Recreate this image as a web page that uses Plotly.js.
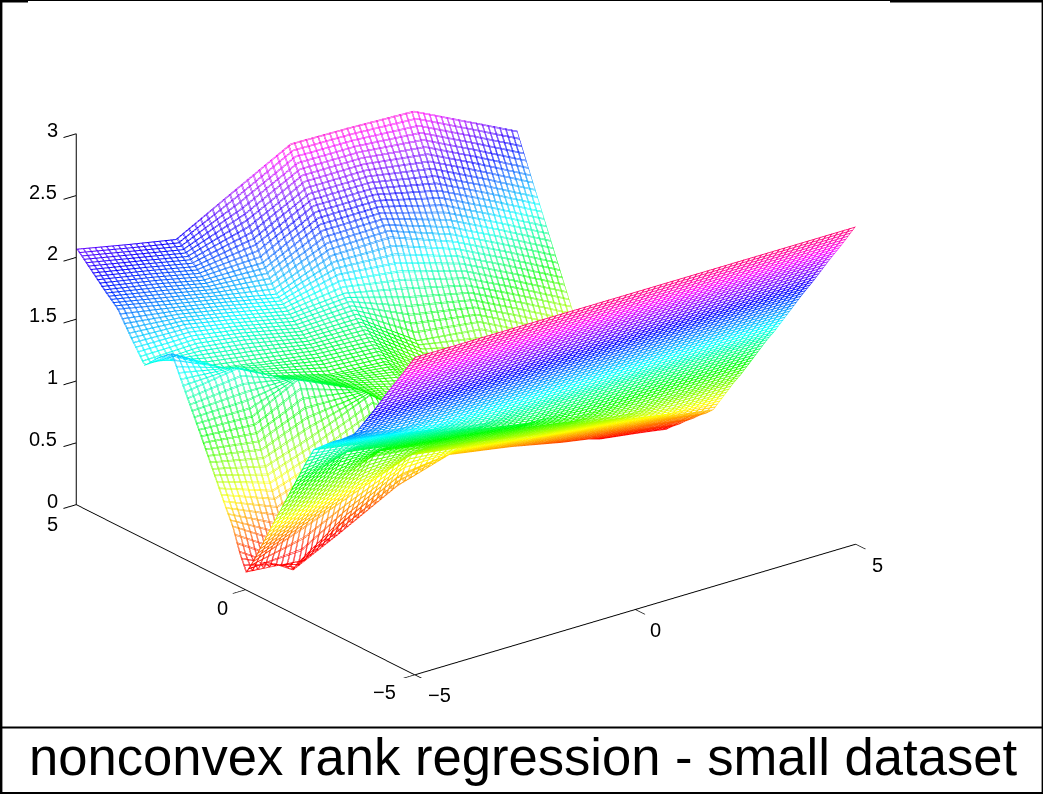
<!DOCTYPE html>
<html><head><meta charset="utf-8">
<script src="https://cdn.plot.ly/plotly-3.0.1.min.js"></script>
<style>html,body{margin:0;padding:0;background:#fff}#p{width:1043px;height:794px}</style></head>
<body><div id="p"></div>
<script>
const xValues=[-5,-3.77,-2.74,-1.4,-0.14,1.2,2.65,3.8,5];
const yValues=[-5,-4.6,-4.2,-3.8,-3.4,-3.2,-3,-2.8,-2.6,-2.4,-2.2,-2,-1.8,-1.6,-1.4,-1.2,-1,-.8,-.6,-.4,-.2,0,.2,.4,.6,1,1.4,1.8,2.2,2.6,3,3.4,3.8,4.2,4.6,5];
const zc0=[2.57,2.37,2.18,1.98,1.79,1.70,1.65,1.60,1.56,1.51,1.46,1.41,1.29,1.16,1.03,.90,.77,.64,.51,.38,.25,.14,.28,.46,.58,.84,1.10,1.35,1.61,1.52,1.40,1.57,1.75,1.85,1.96,2.07];
const zc1=[2.57,2.37,2.18,1.98,1.79,1.69,1.59,1.53,1.48,1.43,1.38,1.33,1.28,1.23,1.18,1.07,.94,.81,.68,.55,.42,.10,0,.19,.39,.73,1.08,1.42,1.36,1.30,1.42,1.55,1.66,1.77,1.875,1.98];
const zc2=[2.57,2.37,2.18,1.98,1.79,1.69,1.59,1.49,1.42,1.37,1.32,1.27,1.22,1.17,1.12,1.07,1.02,.95,.82,.69,.56,.36,.18,.35,.52,.86,1.27,1.22,1.19,1.24,1.37,1.48,1.59,1.69,1.80,1.91];
const zc3=[2.57,2.37,2.18,1.98,1.79,1.69,1.59,1.49,1.39,1.30,1.24,1.19,1.14,1.09,1.04,.99,.94,.89,.84,.79,.74,.61,.43,.58,.73,1.06,1.05,1.05,1.06,1.17,1.27,1.38,1.49,1.69,1.93,2.17];
const zc4=[2.57,2.37,2.18,1.98,1.79,1.69,1.59,1.49,1.39,1.30,1.20,1.11,1.06,1.01,.96,.91,.86,.81,.77,.72,.67,.62,.57,.52,.55,.70,.85,.96,1.03,1.14,1.27,1.42,1.67,1.92,2.16,2.41];
const zc5=[2.57,2.37,2.18,1.98,1.79,1.69,1.59,1.49,1.39,1.30,1.20,1.10,1.00,.93,.88,.83,.78,.73,.68,.63,.59,.54,.49,.44,.41,.45,.50,.60,.70,.80,.95,1.32,1.68,1.92,2.16,2.40];
const zc6=[2.57,2.37,2.18,1.98,1.79,1.69,1.59,1.49,1.39,1.30,1.20,1.10,1.00,.90,.81,.75,.70,.65,.60,.55,.50,.45,.40,.35,.30,.27,.30,.33,.38,.55,.89,1.19,1.49,1.79,2.09,2.38];
const zc7=[2.57,2.37,2.18,1.98,1.79,1.69,1.59,1.49,1.39,1.30,1.20,1.10,1.00,.90,.81,.71,.63,.58,.53,.48,.43,.38,.33,.28,.23,.15,.11,.13,.13,.39,.69,.99,1.29,1.59,1.89,2.18];
const zc8=[2.57,2.37,2.18,1.98,1.79,1.69,1.59,1.49,1.39,1.30,1.20,1.10,1.00,.90,.81,.71,.61,.51,.455,.41,.356,.31,.256,.21,.157,.09,.04,.03,.03,.17,.47,.77,1.07,1.37,1.67,1.97];
const columns=[zc0,zc1,zc2,zc3,zc4,zc5,zc6,zc7,zc8];
const zMatrix=yValues.map((_,r)=>columns.map(c=>c[r]));
const hsv=[[0,'#ff0000'],[1/6,'#ffff00'],[1/3,'#00ff00'],[1/2,'#00ffff'],[2/3,'#0000ff'],[5/6,'#ff00ff'],[1,'#ff0000']];
const white=[[0,'#ffffff'],[1,'#ffffff']];
const flat={ambient:1,diffuse:0,specular:0,roughness:1,fresnel:0};
const noC={show:false,highlight:false};
const mesh=(s,size)=>({show:true,start:s,end:5.1,size:size,usecolormap:true,highlight:false,width:2});
const lines=(sx,sy)=>({type:'surface',x:xValues,y:yValues,z:zMatrix,showscale:false,colorscale:hsv,cmin:0,cmax:2.57,hidesurface:true,lighting:flat,hoverinfo:'skip',contours:{x:mesh(sx,0.1331),y:mesh(sy,0.0665),z:noC}});
const ax=(tv)=>({tickvals:tv,showgrid:false,zeroline:false,showbackground:false,showspikes:false,showline:true,linecolor:'#000',linewidth:2,ticks:'outside',ticklen:16,tickcolor:'#000',tickwidth:2,showticklabels:false,title:{text:''}});
const xTicks=[-5,0,5],yTicks=[-5,0,5],zTicks=[0,0.5,1,1.5,2,2.5,3];
const lab=(x,y,z,t,xs,ys)=>({x,y,z,text:t,showarrow:false,xshift:xs,yshift:ys,font:{family:'Liberation Sans',size:20,color:'#000'}});
const annos=[
 lab(-5,5,0,'0',-24,4),lab(-5,5,.5,'0.5',-33,4),lab(-5,5,1,'1',-24,4),lab(-5,5,1.5,'1.5',-33,4),lab(-5,5,2,'2',-24,4),lab(-5,5,2.5,'2.5',-33,4),lab(-5,5,3,'3',-24,4),
 lab(-5,5,0,'5',-24,-19),lab(-5,0,0,'0',-23,-18),lab(-5,-5,0,'\u22125',-30,-17),
 lab(-5,-5,0,'\u22125',25,-20),lab(0,-5,0,'0',20,-20),lab(5,-5,0,'5',22,-21)];
Plotly.newPlot('p',[
 {type:'surface',x:xValues,y:yValues,z:zMatrix,showscale:false,colorscale:white,lighting:flat,hoverinfo:'skip',contours:{x:noC,y:noC,z:noC}},
 lines(-4.99,-4.99),lines(-4.97,-4.98)
],{
 width:1043,height:794,margin:{l:0,r:0,t:0,b:0},paper_bgcolor:'#fff',showlegend:false,
 scene:{domain:{x:[0,.8936],y:[.146,1]},aspectmode:'manual',aspectratio:{x:1.64,y:1.64,z:1.186},
  xaxis:Object.assign(ax(xTicks),{range:[-5,5]}),yaxis:Object.assign(ax(yTicks),{range:[-5,5]}),zaxis:Object.assign(ax(zTicks),{range:[0,3]}),
  camera:{projection:{type:'orthographic'},eye:{x:-1.686,y:-2.196,z:1.158},center:{x:0,y:0,z:0},up:{x:0,y:0,z:1}},annotations:annos},
 shapes:[
  {type:'line',xref:'paper',yref:'paper',x0:0,x1:1,y0:1-.5/794,y1:1-.5/794,line:{color:'#000',width:1}},
  {type:'line',xref:'paper',yref:'paper',x0:0,x1:28/1043,y0:1-1/794,y1:1-1/794,line:{color:'#000',width:3}},
  {type:'line',xref:'paper',yref:'paper',x0:890/1043,x1:1,y0:1-1/794,y1:1-1/794,line:{color:'#000',width:3}},
  {type:'line',xref:'paper',yref:'paper',x0:1.2/1043,x1:1.2/1043,y0:0,y1:1,line:{color:'#000',width:2.4}},
  {type:'line',xref:'paper',yref:'paper',x0:1042.3/1043,x1:1042.3/1043,y0:0,y1:1,line:{color:'#000',width:1.4}},
  {type:'line',xref:'paper',yref:'paper',x0:0,x1:1,y0:1-727.5/794,y1:1-727.5/794,line:{color:'#000',width:2}},
  {type:'line',xref:'paper',yref:'paper',x0:0,x1:1,y0:1-793/794,y1:1-793/794,line:{color:'#000',width:2}}
 ],
 annotations:[{xref:'paper',yref:'paper',x:523/1043,y:1-756/794,xanchor:'center',yanchor:'middle',text:'nonconvex rank regression - small dataset',showarrow:false,font:{family:'Liberation Sans',size:52.6,color:'#000'}}]
},{displayModeBar:false});
</script></body></html>
